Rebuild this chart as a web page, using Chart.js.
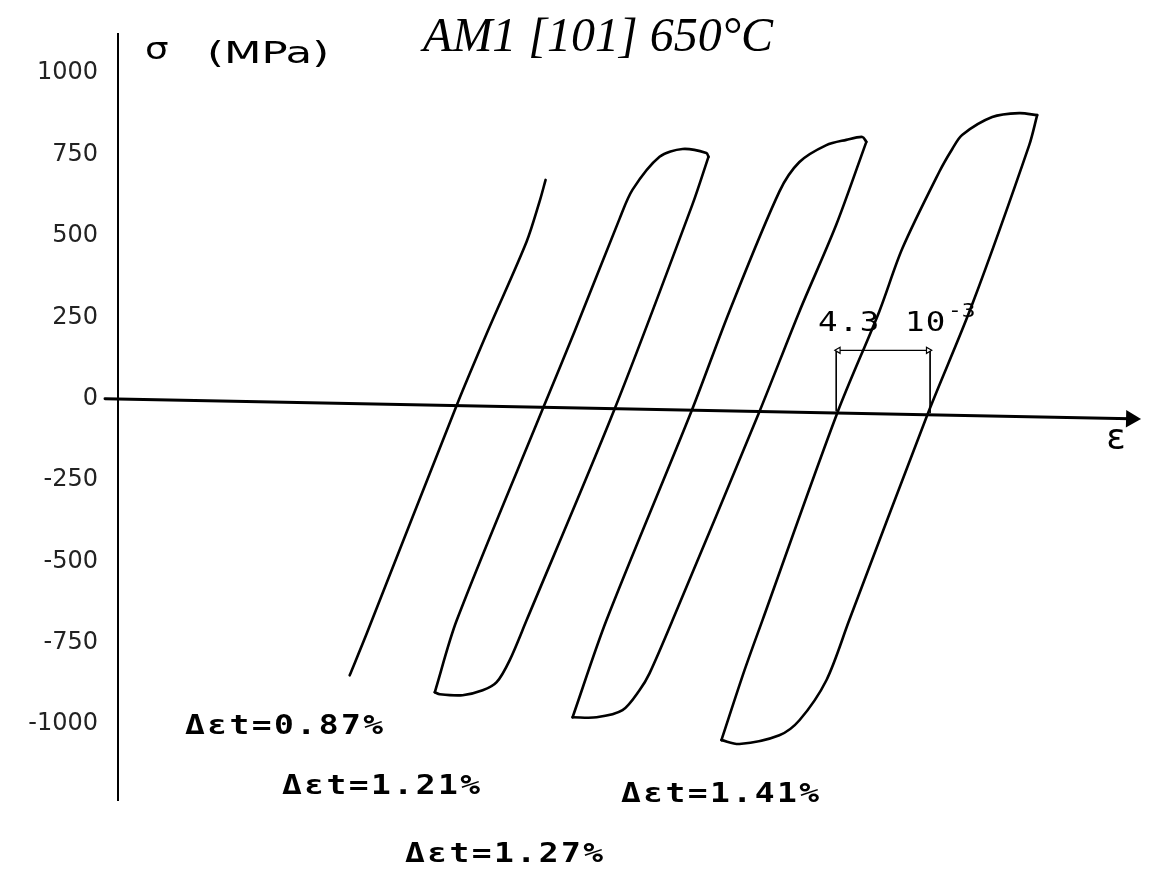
<!DOCTYPE html>
<html><head><meta charset="utf-8">
<script src="https://cdn.jsdelivr.net/npm/chart.js@4.4.1/dist/chart.umd.min.js"></script>
<style>html,body{margin:0;padding:0;background:#fff}#wrap{width:1149px;height:874px;position:relative}</style>
</head><body><div id="wrap"><canvas id="c"></canvas></div>
<script>
// stress ticks (MPa)
const yTicks = [-1000, -750, -500, -250, 0, 250, 500, 750, 1000];

// strain in units of 1e-3 (relative to the stress axis), stress in MPa
const curve087X = [11.08, 11.90, 16.20, 17.68, 19.54, 20.16, 20.45];
const curve087Y = [-850, -721, -20, 207, 482, 605, 672];

// each loop: rising branch (bottom-left corner -> top-right corner) and falling branch (back)
const loop121UpX = [15.15, 16.20, 20.35, 21.84, 23.99, 24.61, 25.90, 27.00, 28.14, 28.24];
const loop121UpY = [-902, -681, -26, 207, 553, 642, 743, 767, 755, 743];
const loop121DownX = [28.24, 27.47, 23.75, 19.54, 18.73, 18.11, 17.44, 16.48, 15.39, 15.15];
const loop121DownY = [743, 596, -32, -681, -804, -871, -896, -911, -908, -902];

const loop127UpX = [21.74, 23.36, 27.43, 29.24, 31.63, 32.59, 33.88, 34.83, 35.60, 35.79];
const loop127UpY = [-979, -681, -38, 268, 636, 727, 779, 795, 804, 789];
const loop127DownX = [35.79, 34.35, 32.59, 30.67, 26.52, 25.42, 24.94, 24.13, 22.89, 21.74];
const loop127DownY = [789, 534, 268, -41, -681, -844, -896, -957, -979, -979];

const loop141UpX = [28.86, 29.96, 30.82, 34.40, 36.41, 37.51, 39.28, 39.90, 40.37, 41.81, 43.10, 43.96];
const loop141UpY = [-1049, -835, -681, -44, 268, 461, 697, 767, 810, 865, 877, 871];
const loop141DownX = [43.96, 43.58, 40.85, 38.70, 34.97, 33.88, 32.59, 31.63, 29.72, 28.86];
const loop141DownY = [871, 779, 289, -51, -681, -865, -988, -1034, -1061, -1049];

// drawn strain axis (slightly tilted in the scan) and the 4.3e-3 dimension
const axisX = [-0.62, 48.45];
const axisY = [0, -62];
const dimLeftX = [34.35, 34.35];
const dimLeftY = [146, -38];
const dimRightX = [38.84, 38.84];
const dimRightY = [146, -44];
const dimArrowX = [34.45, 38.75];
const dimArrowY = [148.5, 148.5];

// texts
const titleText = 'AM1 [101] 650°C';
const stressSymbol = 'σ';
const stressUnit = '(MPa)';
const strainSymbol = 'ε';
const rangeLabels = ['Δεt=0.87%', 'Δεt=1.21%', 'Δεt=1.27%', 'Δεt=1.41%'];
const dimValue = '4.3';
const dimBase = '10';
const dimPower = '-3';

const pts = (xs, ys) => xs.map((x, i) => ({ x: x, y: ys[i] }));
const curve = (label, xs, ys, w, t) => ({
  label: label, data: pts(xs, ys), showLine: true, borderColor: '#000',
  borderWidth: w, pointRadius: 0, tension: t || 0, clip: false, fill: false,
  borderJoinStyle: 'round', borderCapStyle: 'round'
});

const axisSet = curve('axis', axisX, axisY, 3);
axisSet.pointRadius = [0, 7];
axisSet.pointStyle = 'triangle';
axisSet.pointRotation = 91.2;
axisSet.pointBackgroundColor = '#000';
axisSet.pointBorderColor = '#000';

const arrowSet = curve('dim', dimArrowX, dimArrowY, 1.2);
arrowSet.pointRadius = [3.5, 3.5];
arrowSet.pointStyle = 'triangle';
arrowSet.pointRotation = [-90, 90];
arrowSet.pointBackgroundColor = '#fff';
arrowSet.pointBorderColor = '#000';
arrowSet.pointBorderWidth = 1.2;

function stretched(ctx, text, x, y, sx) {
  ctx.save();
  ctx.translate(x, y);
  ctx.scale(sx, 1);
  ctx.fillText(text, 0, 0);
  ctx.restore();
}

const textPlugin = {
  id: 'texts',
  afterDraw(chart) {
    const ctx = chart.ctx;
    ctx.save();
    ctx.fillStyle = '#000';
    ctx.textBaseline = 'middle';
    // title
    ctx.textAlign = 'center';
    ctx.font = 'italic 48px "Liberation Serif"';
    ctx.fillText(titleText, 598, 38);
    // axis names
    ctx.textAlign = 'left';
    ctx.font = '31px "DejaVu Sans"';
    stretched(ctx, stressSymbol, 145, 51, 1.2);
    stretched(ctx, stressUnit, 207, 55, 1.4);
    ctx.textAlign = 'center';
    ctx.font = '36px "DejaVu Sans"';
    ctx.fillText(strainSymbol, 1116, 440);
    // range labels
    ctx.textAlign = 'left';
    ctx.font = 'bold 27px "DejaVu Sans Mono"';
    ctx.letterSpacing = '2px';
    const lp = [[185, 727], [282, 787], [405, 855], [621, 795]];
    rangeLabels.forEach((t, i) => stretched(ctx, t, lp[i][0], lp[i][1], 1.22));
    // dimension text
    ctx.font = '26px "DejaVu Sans Mono"';
    ctx.letterSpacing = '1px';
    stretched(ctx, dimValue, 818, 324, 1.25);
    stretched(ctx, dimBase, 905, 324, 1.25);
    ctx.font = '19px "DejaVu Sans Mono"';
    ctx.letterSpacing = '0px';
    stretched(ctx, dimPower, 948, 312, 1.2);
    ctx.restore();
  }
};

new Chart(document.getElementById('c'), {
  type: 'scatter',
  data: {
    datasets: [
      axisSet,
      curve('Δεt=0.87%', curve087X, curve087Y, 2.6, 0.3),
      curve('Δεt=1.21% up', loop121UpX, loop121UpY, 2.6, 0.3),
      curve('Δεt=1.21% down', loop121DownX, loop121DownY, 2.6, 0.3),
      curve('Δεt=1.27% up', loop127UpX, loop127UpY, 2.6, 0.3),
      curve('Δεt=1.27% down', loop127DownX, loop127DownY, 2.6, 0.3),
      curve('Δεt=1.41% up', loop141UpX, loop141UpY, 2.6, 0.3),
      curve('Δεt=1.41% down', loop141DownX, loop141DownY, 2.6, 0.3),
      curve('dimL', dimLeftX, dimLeftY, 1),
      curve('dimR', dimRightX, dimRightY, 1),
      arrowSet
    ]
  },
  options: {
    responsive: true,
    maintainAspectRatio: false,
    animation: false,
    layout: { padding: { top: 32, bottom: 74, right: 9, left: 0 } },
    plugins: { legend: { display: false }, tooltip: { enabled: false }, title: { display: false } },
    scales: {
      x: { type: 'linear', min: 0, max: 48.83, display: false },
      y: {
        type: 'linear', min: -1233, max: 1119,
        afterBuildTicks: (axis) => { axis.ticks = yTicks.map(v => ({ value: v })); },
        afterFit: (axis) => { axis.width = 118; },
        grid: { drawOnChartArea: false, drawTicks: false },
        border: { display: true, color: '#000', width: 2 },
        ticks: { color: '#222', padding: 20, font: { family: 'DejaVu Sans', size: 24 }, callback: (v) => String(v) }
      }
    }
  },
  plugins: [textPlugin]
});
</script></body></html>
